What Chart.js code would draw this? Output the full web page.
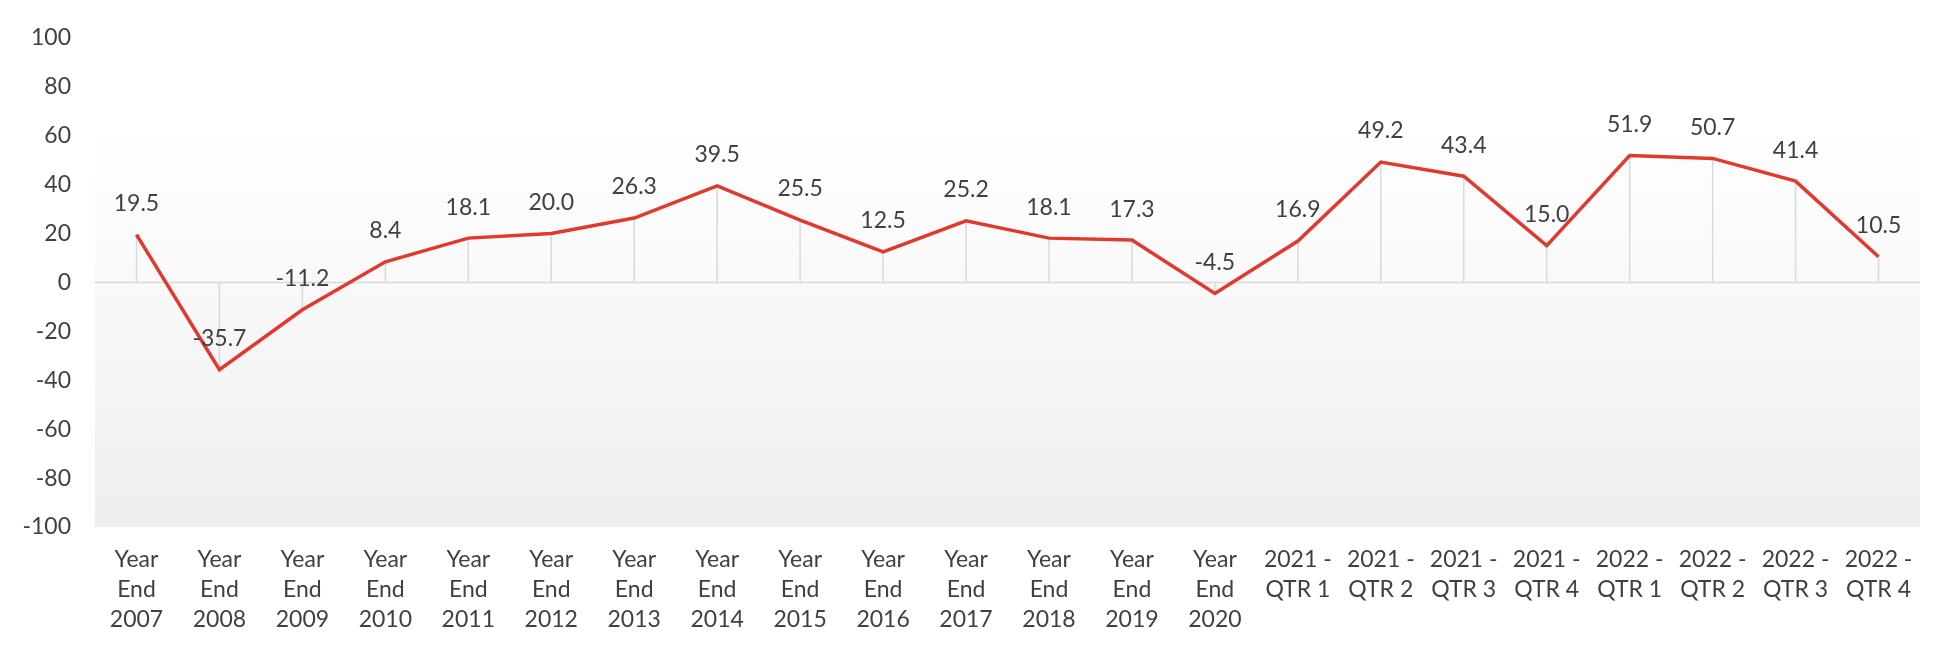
<!DOCTYPE html>
<html>
<head>
<meta charset="utf-8">
<script src="https://cdn.jsdelivr.net/npm/chart.js@4/dist/chart.umd.min.js"></script>
<style>
  html, body { margin: 0; padding: 0; background: #fff; }
  #wrap { width: 1950px; height: 650px; }
</style>
</head>
<body>
<div id="wrap"><canvas id="chart" width="1950" height="650"></canvas></div>
<script>
const categories = [
  ["Year", "End", "2007"], ["Year", "End", "2008"], ["Year", "End", "2009"],
  ["Year", "End", "2010"], ["Year", "End", "2011"], ["Year", "End", "2012"],
  ["Year", "End", "2013"], ["Year", "End", "2014"], ["Year", "End", "2015"],
  ["Year", "End", "2016"], ["Year", "End", "2017"], ["Year", "End", "2018"],
  ["Year", "End", "2019"], ["Year", "End", "2020"],
  ["2021 -", "QTR 1"], ["2021 -", "QTR 2"], ["2021 -", "QTR 3"], ["2021 -", "QTR 4"],
  ["2022 -", "QTR 1"], ["2022 -", "QTR 2"], ["2022 -", "QTR 3"], ["2022 -", "QTR 4"]
];
const values = [19.5, -35.7, -11.2, 8.4, 18.1, 20.0, 26.3, 39.5, 25.5, 12.5, 25.2,
  18.1, 17.3, -4.5, 16.9, 49.2, 43.4, 15.0, 51.9, 50.7, 41.4, 10.5];
const yTicks = [100, 80, 60, 40, 20, 0, -20, -40, -60, -80, -100];

const FONT = "Lato";
const TEXT = "#404040";

// soft panel behind the plot, zero line and drop lines
const backdrop = {
  id: "backdrop",
  beforeDatasetsDraw(chart) {
    const { ctx, chartArea: a, scales: { x, y } } = chart;
    const zero = y.getPixelForValue(0);
    const top = y.getPixelForValue(60) - 13;
    ctx.save();
    let g = ctx.createLinearGradient(0, top, 0, zero);
    g.addColorStop(0, "#ffffff");
    g.addColorStop(1, "#f9f9f9");
    ctx.fillStyle = g;
    ctx.fillRect(a.left, top, a.right - a.left, zero - top);
    g = ctx.createLinearGradient(0, zero, 0, a.bottom);
    g.addColorStop(0, "#f9f9f9");
    g.addColorStop(1, "#eeeeee");
    ctx.fillStyle = g;
    ctx.fillRect(a.left, zero, a.right - a.left, a.bottom - zero);

    ctx.strokeStyle = "#d9d9d9";
    ctx.lineWidth = 1.5;
    values.forEach((v, i) => {
      const px = x.getPixelForValue(i);
      ctx.beginPath();
      ctx.moveTo(px, zero);
      ctx.lineTo(px, y.getPixelForValue(v));
      ctx.stroke();
    });
    ctx.beginPath();
    ctx.moveTo(a.left, zero);
    ctx.lineTo(a.right, zero);
    ctx.stroke();
    ctx.restore();
  },
  afterDatasetsDraw(chart) {
    const { ctx } = chart;
    const meta = chart.getDatasetMeta(0);
    ctx.save();
    ctx.font = "23px " + FONT;
    ctx.fillStyle = TEXT;
    ctx.textAlign = "center";
    ctx.textBaseline = "middle";
    meta.data.forEach((pt, i) => {
      ctx.fillText(values[i].toFixed(1), pt.x, pt.y - 31);
    });
    ctx.restore();
  }
};

new Chart(document.getElementById("chart"), {
  type: "line",
  data: {
    labels: categories,
    datasets: [{
      data: values,
      borderColor: "#e2392d",
      borderWidth: 3.5,
      pointRadius: 0,
      tension: 0,
      fill: false
    }]
  },
  options: {
    responsive: false,
    animation: false,
    layout: { padding: { top: 35, right: 30, left: 0, bottom: 0 } },
    plugins: { legend: { display: false }, tooltip: { enabled: false } },
    scales: {
      x: {
        offset: true,
        grid: { display: false, drawTicks: false },
        border: { display: false },
        ticks: {
          autoSkip: false,
          maxRotation: 0,
          padding: 18,
          color: TEXT,
          font: { family: FONT, size: 23, lineHeight: 1.3 }
        },
        afterFit(axis) { axis.height = 123; }
      },
      y: {
        min: -100,
        max: 100,
        afterBuildTicks(axis) { axis.ticks = yTicks.map(v => ({ value: v })); },
        grid: { display: false, drawTicks: false },
        border: { display: false },
        ticks: {
          padding: 24,
          color: TEXT,
          font: { family: FONT, size: 23 }
        },
        afterFit(axis) { axis.width = 95; }
      }
    }
  },
  plugins: [backdrop]
});
</script>
</body>
</html>
